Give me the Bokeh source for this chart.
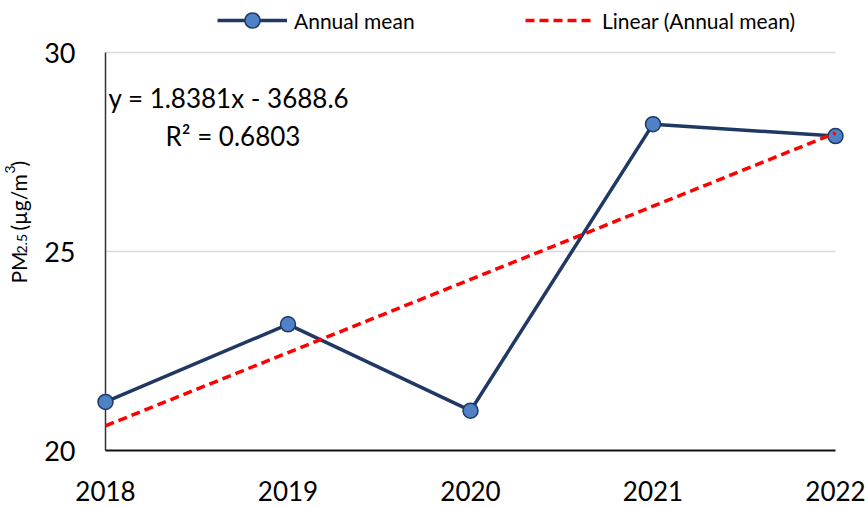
import numpy as np
from math import pi
from bokeh.plotting import figure
from bokeh.models import Range1d, Label, Legend, LegendItem
from bokeh.core.properties import value
from bokeh.embed import file_html
from bokeh.resources import INLINE

# ---- data ----
years = [2018, 2019, 2020, 2021, 2022]
annual_mean = [21.22, 23.17, 21.0, 28.2, 27.9]
y_ticks = [20, 25, 30]
x_ticks = years
x_tick_labels = ["2018", "2019", "2020", "2021", "2022"]
y_tick_labels = ["20", "25", "30"]
series_label = "Annual mean"
trend_label = "Linear (Annual mean)"
equation_text = "y = 1.8381x - 3688.6"
r2_text = "R² = 0.6803"
ylabel_parts = ["PM", "2.5", "(µg/m", "3", ")"]

slope, intercept = np.polyfit(years, annual_mean, 1)
trend = [slope * x + intercept for x in years]

# ---- layout (pixels) ----
W, H = 865, 507
AX_LEFT_PX, AX_RIGHT_PX = 105, 835      # x of first / last year
AX_TOP_PX, AX_BOTTOM_PX = 52, 450       # y of top / bottom tick
ppx = (AX_RIGHT_PX - AX_LEFT_PX) / (x_ticks[-1] - x_ticks[0])
ppy = (AX_BOTTOM_PX - AX_TOP_PX) / (y_ticks[-1] - y_ticks[0])


def yd(px):
    """pixel row -> data y"""
    return y_ticks[0] + (AX_BOTTOM_PX - px) / ppy


FONT = "Lato"
NAVY = "#203864"
FILL = "#4F81C7"
RED = "#FF0000"

p = figure(width=W, height=H, output_backend="svg", toolbar_location=None,
           x_range=Range1d(x_ticks[0] - AX_LEFT_PX / ppx,
                           x_ticks[-1] + (W - AX_RIGHT_PX) / ppx),
           y_range=Range1d(yd(H), yd(0)),
           min_border_left=0, min_border_right=0, min_border_top=0,
           min_border_bottom=0)
p.outline_line_color = None
p.xaxis.visible = False
p.yaxis.visible = False
p.xgrid.visible = False
p.ygrid.visible = False

# gridlines
p.segment(x0=x_ticks[0], x1=x_ticks[-1], y0=y_ticks[1:], y1=y_ticks[1:],
          line_color="#D9D9D9", line_width=1.5)
# axis lines
p.segment(x0=[x_ticks[0]], x1=[x_ticks[0]], y0=[y_ticks[0]], y1=[y_ticks[-1]],
          line_color="#333333", line_width=1.5)
p.segment(x0=[x_ticks[0]], x1=[x_ticks[-1]], y0=[y_ticks[0]], y1=[y_ticks[0]],
          line_color="#111111", line_width=2)

# tick labels
p.text(x=[x_ticks[0]] * len(y_ticks), y=y_ticks, text=y_tick_labels,
       x_offset=-30, text_align="right", text_baseline="middle",
       text_font=value(FONT), text_font_size="27px", text_color="#000000")
p.text(x=x_ticks, y=[yd(490)] * len(x_ticks), text=x_tick_labels,
       text_align="center", text_baseline="middle",
       text_font=value(FONT), text_font_size="26px", text_color="#000000")

# series
line_r = p.line(years, annual_mean, line_color=NAVY, line_width=3.5)
pts_r = p.scatter(years, annual_mean, size=15, fill_color=FILL,
                  line_color=NAVY, line_width=1.5)
trend_r = p.line(years, trend, line_color=RED, line_width=3.5, line_dash="9 5")


# legends
def make_legend(items, x):
    return Legend(items=items, location=(x, H - 39), orientation="horizontal",
                  padding=0, margin=0, spacing=0, border_line_color=None,
                  background_fill_alpha=0, glyph_width=70, glyph_height=38,
                  label_standoff=7, label_text_font=FONT,
                  label_text_font_size="21px", label_text_color="#000000",
                  label_height=20)


p.add_layout(make_legend([LegendItem(label=series_label, renderers=[line_r, pts_r])], 217))
p.add_layout(make_legend([LegendItem(label=trend_label, renderers=[trend_r])], 525))

# trendline equation
p.add_layout(Label(x=x_ticks[0], y=yd(97), x_offset=3, text=equation_text,
                   text_font=FONT, text_font_size="26px", text_baseline="middle",
                   text_color="#000000"))
p.add_layout(Label(x=x_ticks[0], y=yd(135), x_offset=60, text=r2_text,
                   text_font=FONT, text_font_size="26px", text_baseline="middle",
                   text_color="#000000"))

# rotated y-axis title built from pieces (along = px up from start, shift = px right)
start_px = 283
pieces = [
    (ylabel_parts[0], "21px", 0, 0),
    (ylabel_parts[1], "14px", 30, 3),
    (ylabel_parts[2], "21px", 53, 0),
    (ylabel_parts[3], "14px", 110, -9),
    (ylabel_parts[4], "21px", 117, 0),
]
for txt, size, along, shift in pieces:
    p.add_layout(Label(x=x_ticks[0], y=yd(start_px - along), x_offset=-87 + shift,
                       text=txt, angle=pi / 2, text_font=FONT,
                       text_font_size=size, text_align="left",
                       text_baseline="alphabetic", text_color="#000000"))

open("out.html", "w").write(file_html(p, INLINE))
